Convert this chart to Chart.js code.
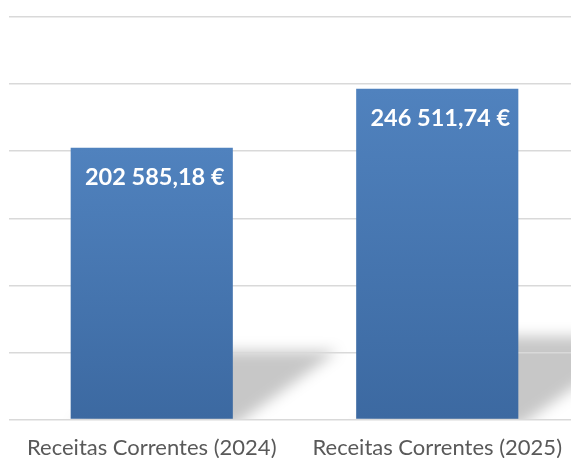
<!DOCTYPE html>
<html>
<head>
<meta charset="utf-8">
<script src="https://cdn.jsdelivr.net/npm/chart.js@4"></script>
<style>
  html, body { margin: 0; padding: 0; background: #fff; overflow: hidden; }
  #wrap { position: absolute; left: 0; top: 0; width: 580px; height: 472px; }
</style>
</head>
<body>
<div id="wrap"><canvas id="receitasChart"></canvas></div>
<script>
// chart data
var categories = ['Receitas Correntes (2024)', 'Receitas Correntes (2025)'];
var receitas = [202585.18, 246511.74];
var axisMax = 300000;
var axisStep = 50000;

// format like "202 585,18 €"
function formatEuro(v) {
    var parts = v.toFixed(2).split('.');
    var intPart = parts[0].replace(/\B(?=(\d{3})+(?!\d))/g, ' ');
    return intPart + ',' + parts[1] + ' €';
}

// grey perspective shadow behind each bar
var barShadow = {
    id: 'barShadow',
    beforeDraw: function(chart) {
        var ctx = chart.ctx;
        var area = chart.chartArea;
        var meta = chart.getDatasetMeta(0);
        ctx.save();
        ctx.beginPath();
        ctx.rect(area.left, area.top, area.right - area.left, area.bottom - area.top);
        ctx.clip();
        ctx.filter = 'blur(7px)';
        ctx.fillStyle = 'rgba(0,0,0,0.22)';
        meta.data.forEach(function(bar) {
            var h = bar.base - bar.y;
            var sh = h * 0.25;
            var dx = sh * 1.55;
            var left = bar.x - bar.width / 2;
            var right = bar.x + bar.width / 2;
            ctx.beginPath();
            ctx.moveTo(left, bar.base + 8);
            ctx.lineTo(right, bar.base + 8);
            ctx.lineTo(right + dx, bar.base - sh);
            ctx.lineTo(left + dx, bar.base - sh);
            ctx.closePath();
            ctx.fill();
        });
        ctx.restore();
    }
};

// value labels inside the top of each bar
var valueLabels = {
    id: 'valueLabels',
    afterDatasetsDraw: function(chart) {
        var ctx = chart.ctx;
        var meta = chart.getDatasetMeta(0);
        ctx.save();
        ctx.fillStyle = '#ffffff';
        ctx.font = 'bold 23.5px Lato';
        ctx.textAlign = 'center';
        ctx.textBaseline = 'middle';
        meta.data.forEach(function(bar, i) {
            ctx.fillText(formatEuro(receitas[i]), bar.x + 3, bar.y + 30);
        });
        ctx.restore();
    }
};

var ctx = document.getElementById('receitasChart').getContext('2d');

new Chart(ctx, {
    type: 'bar',
    data: {
        labels: categories,
        datasets: [{
            data: receitas,
            backgroundColor: function(c) {
                var chart = c.chart;
                var y = chart.scales && chart.scales.y;
                if (!chart.chartArea || !y || c.raw == null) return '#4a78b3';
                var top = y.getPixelForValue(c.raw);
                var bottom = y.getPixelForValue(0);
                var g = chart.ctx.createLinearGradient(0, top, 0, bottom);
                g.addColorStop(0, '#5082be');
                g.addColorStop(1, '#3c69a1');
                return g;
            },
            borderWidth: 0,
            barPercentage: 0.568,
            categoryPercentage: 1
        }]
    },
    options: {
        responsive: true,
        maintainAspectRatio: false,
        animation: false,
        layout: {
            padding: { left: 9, right: 0, top: 17, bottom: 4 }
        },
        plugins: {
            legend: { display: false },
            tooltip: { enabled: false }
        },
        scales: {
            x: {
                grid: { display: false },
                border: { display: false },
                ticks: {
                    color: '#595959',
                    font: { family: 'Lato', size: 22 },
                    padding: 7,
                    maxRotation: 0,
                    autoSkip: false
                }
            },
            y: {
                min: 0,
                max: axisMax,
                border: { display: false },
                grid: {
                    color: '#d9d9d9',
                    lineWidth: 1.6,
                    drawTicks: false,
                    tickLength: 0
                },
                ticks: {
                    display: false,
                    stepSize: axisStep
                }
            }
        }
    },
    plugins: [barShadow, valueLabels]
});
</script>
</body>
</html>
